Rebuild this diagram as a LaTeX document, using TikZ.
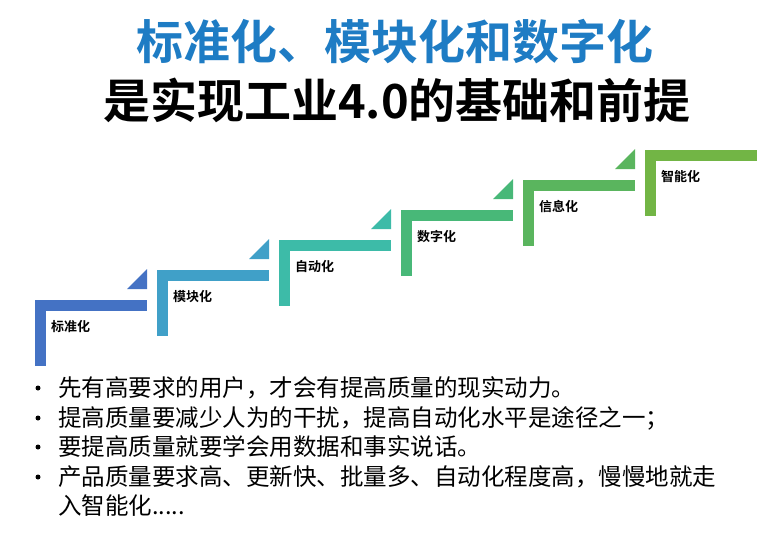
\documentclass[tikz,border=0pt]{standalone}
\usepackage{fontspec}
\setmainfont{Noto Sans CJK SC}
\newfontfamily\cjkb{Noto Sans CJK SC Bold}
\begin{document}
\begin{tikzpicture}[x=1pt,y=-1pt,
  lbl/.style={anchor=west,font=\cjkb\fontsize{13}{15}\selectfont,inner sep=0},
  btxt/.style={anchor=west,font=\fontsize{23.5}{26}\selectfont,inner sep=0}]
\useasboundingbox (0,0) rectangle (777,550);
\fill[white] (0,0) rectangle (777,550);
\definecolor{tblue}{HTML}{1E7CC4}
\node[font=\cjkb\fontsize{47}{52}\selectfont,text=tblue,inner sep=0] (t1) at (395,42) {标准化、模块化和数字化};
\node[font=\cjkb\fontsize{47}{52}\selectfont,inner sep=0] (t2) at (397,100) {是实现工业4.0的基础和前提};
\definecolor{c1}{HTML}{4472C4}\definecolor{c2}{HTML}{40A0C8}\definecolor{c3}{HTML}{3DBBA8}
\definecolor{c4}{HTML}{48B878}\definecolor{c5}{HTML}{5AB55E}\definecolor{c6}{HTML}{72B545}
\foreach \i/\c/\t in {0/c1/标准化,1/c2/模块化,2/c3/自动化,3/c4/数字化,4/c5/信息化,5/c6/智能化}{
  \pgfmathsetmacro\xx{35+122*\i}
  \pgfmathsetmacro\yy{300-30*\i}
  \fill[\c] (\xx,\yy) rectangle ++(112,11);
  \fill[\c] (\xx,\yy) rectangle ++(11,66);
  \ifnum\i<5
    \fill[\c] (\xx+92,\yy-11) -- (\xx+112,\yy-31) -- (\xx+112,\yy-11) -- cycle;
  \fi
  \node[lbl] (s\i) at (\xx+16,\yy+27) {\t};
}
\foreach \y/\t/\n in {388/先有高要求的用户，才会有提高质量的现实动力。/b1,
  418/提高质量要减少人为的干扰，提高自动化水平是途径之一；/b2,
  447/要提高质量就要学会用数据和事实说话。/b3,
  477/产品质量要求高、更新快、批量多、自动化程度高，慢慢地就走/b4}{
  \node[btxt] (\n) at (58,\y) {\t};
  \fill (38,\y) circle (2.5);
}
\node[btxt] (b5) at (58,506) {入智能化.....};
\end{tikzpicture}
\end{document}
